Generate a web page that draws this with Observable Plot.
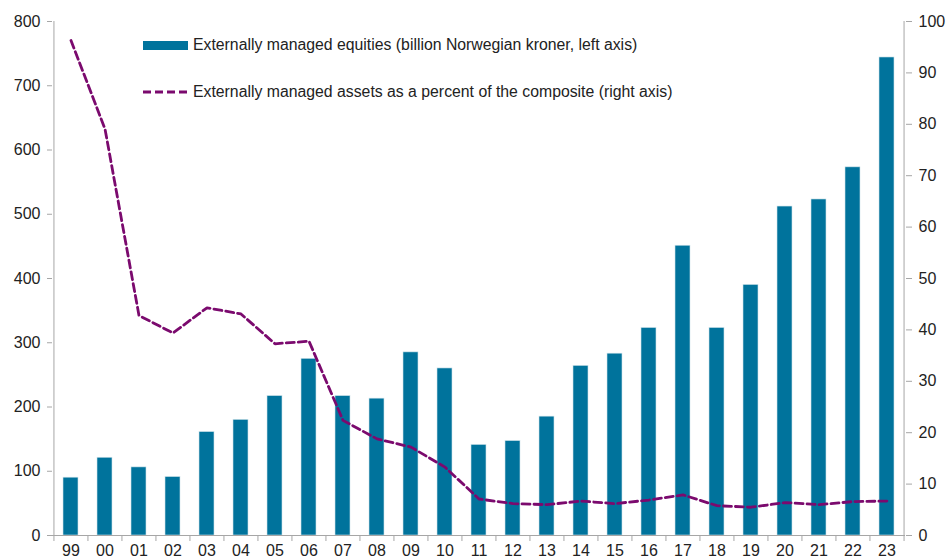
<!DOCTYPE html>
<html>
<head>
<meta charset="utf-8">
<script src="https://cdn.jsdelivr.net/npm/d3@7"></script>
<script src="https://cdn.jsdelivr.net/npm/@observablehq/plot@0.6"></script>
<style>
  html, body { margin: 0; padding: 0; background: #fff; }
  #wrap { position: relative; width: 947px; height: 558px; font-family: "Liberation Sans", Arial, sans-serif; }
  .leg { position: absolute; font-size: 15.8px; color: #222; white-space: nowrap; display: flex; align-items: center; }
  .sw { display: inline-block; margin-right: 5px; }
</style>
</head>
<body>
<div id="wrap"></div>
<script>
const years = ["99","00","01","02","03","04","05","06","07","08","09","10","11","12","13","14","15","16","17","18","19","20","21","22","23"];
const equities = [90, 121, 106, 91, 161, 180, 217, 275, 217, 213, 285, 260, 141, 147, 185, 264, 283, 323, 451, 323, 390, 512, 523, 573, 744];
const percent = [96.3, 79.1, 42.8, 39.4, 44.3, 43.1, 37.3, 37.8, 22.4, 18.8, 17.2, 13.3, 7.1, 6.2, 6.0, 6.7, 6.2, 6.9, 7.9, 5.8, 5.5, 6.4, 6.0, 6.6, 6.7];
const leftTicks = [0, 100, 200, 300, 400, 500, 600, 700, 800];
const rightTicks = [0, 10, 20, 30, 40, 50, 60, 70, 80, 90, 100];
const legendLabels = [
  "Externally managed equities (billion Norwegian kroner, left axis)",
  "Externally managed assets as a percent of the composite (right axis)"
];

const barColor = "#00739c";
const lineColor = "#7b0a6e";
const axisColor = "#a6a6a6";
const ratio = 8; // 800 / 100

const data = years.map((y, i) => ({year: y, eq: equities[i], pct: percent[i]}));

const W = 947, H = 558, mL = 52, mR = 42, mT = 21, mB = 23;
const step = (W - mL - mR) / years.length;

const chart = Plot.plot({
  width: W, height: H,
  marginLeft: mL, marginRight: mR, marginTop: mT, marginBottom: mB,
  style: {fontFamily: "Liberation Sans, Arial, sans-serif", fontSize: "16px", color: "#222", background: "#fff"},
  x: {domain: years, paddingInner: 0.56, paddingOuter: 0.28, align: 0.5},
  y: {domain: [0, 800]},
  marks: [
    Plot.barY(data, {x: "year", y: "eq", fill: barColor, stroke: "#cfe3ea", strokeWidth: 0.6}),
    Plot.line(data, {x: "year", y: d => d.pct * ratio, stroke: lineColor, strokeWidth: 2.8, strokeDasharray: "8,4", curve: "linear", strokeLinejoin: "round"}),
    // left axis
    Plot.axisY({ticks: leftTicks, anchor: "left", tickSize: 5, tickPadding: 7, stroke: axisColor, label: null, fontSize: 16}),
    Plot.ruleX([0], {x: () => years[0], dx: -step / 2, y1: 0, y2: 800, stroke: axisColor}),
    // right axis
    Plot.axisY(rightTicks.map(d => d * ratio), {anchor: "right", tickSize: 6, tickPadding: 7, tickFormat: d => d / ratio, stroke: axisColor, label: null, fontSize: 16}),
    Plot.ruleX([0], {x: () => years[years.length - 1], dx: step / 2, y1: 0, y2: 800, stroke: axisColor}),
    // x axis
    Plot.axisX({tickSize: 0, tickPadding: 9, label: null, fontSize: 16}),
    Plot.ruleY([0], {stroke: axisColor}),
    Plot.ruleX(years, {x: d => d, y1: 0, y2: 0, insetBottom: -6, dx: -step / 2, stroke: axisColor}),
    Plot.ruleX([years[years.length - 1]], {x: d => d, y1: 0, y2: 0, insetBottom: -6, dx: step / 2, stroke: axisColor})
  ]
});

const wrap = document.getElementById("wrap");
wrap.appendChild(chart);

const l1 = document.createElement("div");
l1.className = "leg";
l1.style.left = "143px"; l1.style.top = "36px";
l1.innerHTML = `<span class="sw" style="width:45px;height:9px;background:${barColor}"></span><span>${legendLabels[0]}</span>`;
wrap.appendChild(l1);

const l2 = document.createElement("div");
l2.className = "leg";
l2.style.left = "143px"; l2.style.top = "83px";
l2.innerHTML = `<svg class="sw" width="45" height="6"><line x1="0" y1="3" x2="45" y2="3" stroke="${lineColor}" stroke-width="2.8" stroke-dasharray="8,4"/></svg><span>${legendLabels[1]}</span>`;
wrap.appendChild(l2);
</script>
</body>
</html>
